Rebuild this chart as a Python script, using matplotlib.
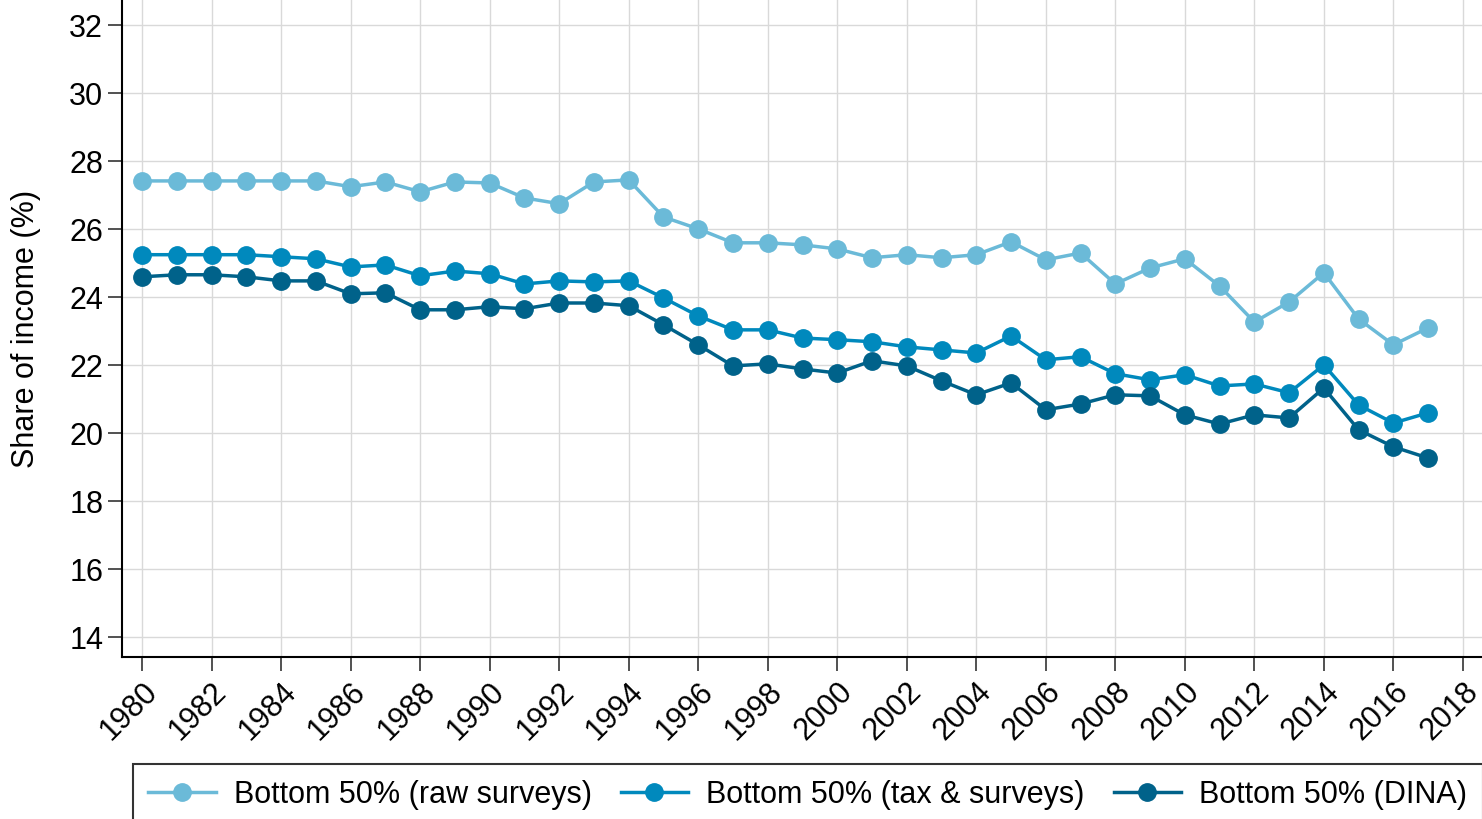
import numpy as np
import matplotlib.pyplot as plt

plt.rcParams['font.family'] = ['Liberation Sans', 'DejaVu Sans']

years = np.arange(1980, 2018)

raw_surveys = [27.41, 27.41, 27.41, 27.41, 27.41, 27.41, 27.24, 27.38, 27.09, 27.38,
               27.35, 26.91, 26.74, 27.38, 27.44, 26.35, 26.00, 25.59, 25.59, 25.53,
               25.41, 25.15, 25.24, 25.15, 25.24, 25.62, 25.09, 25.29, 24.38, 24.85,
               25.12, 24.32, 23.26, 23.85, 24.71, 23.35, 22.59, 23.09]

tax_surveys = [25.24, 25.24, 25.24, 25.24, 25.18, 25.12, 24.88, 24.94, 24.62, 24.76,
               24.68, 24.38, 24.47, 24.44, 24.47, 23.97, 23.44, 23.03, 23.03, 22.79,
               22.74, 22.68, 22.53, 22.44, 22.35, 22.85, 22.15, 22.24, 21.74, 21.56,
               21.71, 21.38, 21.44, 21.18, 22.00, 20.82, 20.29, 20.59]

dina = [24.59, 24.65, 24.65, 24.59, 24.47, 24.47, 24.09, 24.12, 23.62, 23.62,
        23.71, 23.65, 23.82, 23.82, 23.74, 23.18, 22.59, 21.97, 22.03, 21.88,
        21.76, 22.12, 21.97, 21.53, 21.12, 21.47, 20.68, 20.85, 21.12, 21.09,
        20.53, 20.26, 20.53, 20.44, 21.32, 20.09, 19.59, 19.26]

labels = ["Bottom 50% (raw surveys)", "Bottom 50% (tax & surveys)", "Bottom 50% (DINA)"]
colors = ["#6bbad8", "#0089bd", "#00628a"]

fig = plt.figure(figsize=(14.82, 8.2), dpi=100)
ax = fig.add_axes([0.0823, 0.1976, 0.9177, 0.8024])

for vals, lab, col in zip([raw_surveys, tax_surveys, dina], labels, colors):
    ax.plot(years, vals, color=col, linewidth=2.5, marker='o', markersize=12.5, label=lab)

ax.set_xlim(1979.42, 2018.55)
ax.set_ylim(13.41, 32.76)
ax.set_xticks(np.arange(1980, 2019, 2))
ax.set_yticks(np.arange(14, 33, 2))
ax.tick_params(axis='x', labelrotation=45, labelsize=22, length=10, width=1.2, color='#333333')
ax.tick_params(axis='y', labelsize=22, length=10, width=1.2, color='#333333')
for t in ax.get_xticklabels():
    t.set_ha('right')
    t.set_rotation_mode('anchor')
ax.set_ylabel("Share of income (%)", fontsize=22, labelpad=20)
ax.grid(True, color='#d9d9d9', linewidth=1)
ax.set_axisbelow(True)
ax.spines['top'].set_visible(False)
ax.spines['right'].set_visible(False)
ax.spines['left'].set_linewidth(1.5)
ax.spines['bottom'].set_linewidth(1.5)

# legend below the axes, one row, square black frame
leg = fig.legend(loc='upper left', bbox_to_anchor=(133 / 1482, 1 - 765 / 820), ncol=3,
                 fontsize=22, frameon=True, fancybox=False, edgecolor='black',
                 handlelength=2.2, handletextpad=0.6, columnspacing=0.95,
                 borderpad=0.5, borderaxespad=0)
leg.get_frame().set_linewidth(1.5)

plt.savefig("out.png", dpi=100)
